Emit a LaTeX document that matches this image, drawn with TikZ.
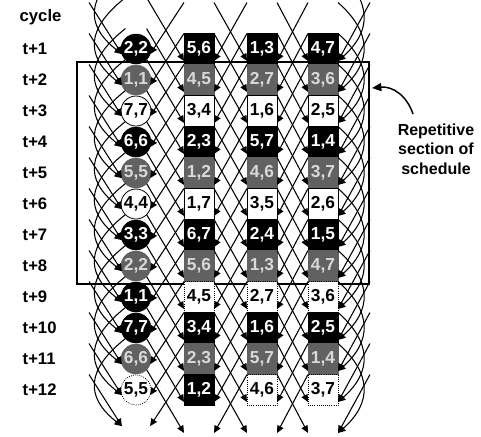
\documentclass[tikz,border=0pt]{standalone}
\usepackage{fontspec}
\setmainfont{Liberation Sans}
\usetikzlibrary{arrows.meta}
\begin{document}
\begin{tikzpicture}[x=0.75pt,y=-0.75pt,
  cellfont/.style={font=\fontsize{13}{15}\selectfont\bfseries},
  sq/.style={rectangle,minimum width=22.5pt,minimum height=23.25pt,inner sep=0pt,cellfont},
  ci/.style={circle,minimum size=22.5pt,inner sep=0pt,cellfont},
  cB/.style={fill=black,draw=black,text=white},
  cG/.style={fill=black!62,draw=black!62,text=black!15},
  cW/.style={fill=white,draw=black,line width=0.6pt,text=black},
  cWd/.style={fill=white,draw=black,densely dotted,line width=0.6pt,text=black},
  lab/.style={anchor=west,font=\fontsize{12.5}{14}\selectfont\bfseries},
  arr/.style={line width=0.8pt,-{Triangle[length=5.5pt,width=5pt]}},
  frame/.style={line width=1.5pt},
  ]
\useasboundingbox (0,0) rectangle (481,436);
\clip (0,0) rectangle (481,436);

% repetitive section frame
\draw[frame] (77,62) rectangle (369,284);

% cells
\node[ci,cB] (n-1-0) at (136,49) {2,2};
\node[sq,cB] (n-1-1) at (199,49) {5,6};
\node[sq,cB] (n-1-2) at (262,49) {1,3};
\node[sq,cB] (n-1-3) at (323,49) {4,7};
\node[ci,cG] (n-2-0) at (136,80) {1,1};
\node[sq,cG] (n-2-1) at (199,80) {4,5};
\node[sq,cG] (n-2-2) at (262,80) {2,7};
\node[sq,cG] (n-2-3) at (323,80) {3,6};
\node[ci,cW] (n-3-0) at (136,111) {7,7};
\node[sq,cW] (n-3-1) at (199,111) {3,4};
\node[sq,cW] (n-3-2) at (262,111) {1,6};
\node[sq,cW] (n-3-3) at (323,111) {2,5};
\node[ci,cB] (n-4-0) at (136,142) {6,6};
\node[sq,cB] (n-4-1) at (199,142) {2,3};
\node[sq,cB] (n-4-2) at (262,142) {5,7};
\node[sq,cB] (n-4-3) at (323,142) {1,4};
\node[ci,cG] (n-5-0) at (136,173) {5,5};
\node[sq,cG] (n-5-1) at (199,173) {1,2};
\node[sq,cG] (n-5-2) at (262,173) {4,6};
\node[sq,cG] (n-5-3) at (323,173) {3,7};
\node[ci,cW] (n-6-0) at (136,204) {4,4};
\node[sq,cW] (n-6-1) at (199,204) {1,7};
\node[sq,cW] (n-6-2) at (262,204) {3,5};
\node[sq,cW] (n-6-3) at (323,204) {2,6};
\node[ci,cB] (n-7-0) at (136,235) {3,3};
\node[sq,cB] (n-7-1) at (199,235) {6,7};
\node[sq,cB] (n-7-2) at (262,235) {2,4};
\node[sq,cB] (n-7-3) at (323,235) {1,5};
\node[ci,cG] (n-8-0) at (136,266) {2,2};
\node[sq,cG] (n-8-1) at (199,266) {5,6};
\node[sq,cG] (n-8-2) at (262,266) {1,3};
\node[sq,cG] (n-8-3) at (323,266) {4,7};
\node[ci,cB] (n-9-0) at (136,297) {1,1};
\node[sq,cWd] (n-9-1) at (199,297) {4,5};
\node[sq,cWd] (n-9-2) at (262,297) {2,7};
\node[sq,cWd] (n-9-3) at (323,297) {3,6};
\node[ci,cB] (n-10-0) at (136,328) {7,7};
\node[sq,cB] (n-10-1) at (199,328) {3,4};
\node[sq,cB] (n-10-2) at (262,328) {1,6};
\node[sq,cB] (n-10-3) at (323,328) {2,5};
\node[ci,cG] (n-11-0) at (136,359) {6,6};
\node[sq,cG] (n-11-1) at (199,359) {2,3};
\node[sq,cG] (n-11-2) at (262,359) {5,7};
\node[sq,cG] (n-11-3) at (323,359) {1,4};
\node[ci,cWd] (n-12-0) at (136,390) {5,5};
\node[sq,cB] (n-12-1) at (199,390) {1,2};
\node[sq,cWd] (n-12-2) at (262,390) {4,6};
\node[sq,cWd] (n-12-3) at (323,390) {3,7};

% connection points (real and virtual cells)
\foreach \r in {-2,...,13} {
  \pgfmathsetmacro\y{49+(\r-1)*31}
  \foreach \c in {-1,...,4} {
    \pgfmathsetmacro\x{{74,136,199,262,323,385}[\c+1]}
    \ifnum\c=0
      \coordinate (oR-\r-\c) at (\x+10.6,\y+10.6);
      \coordinate (oL-\r-\c) at (\x-10.6,\y+10.6);
      \coordinate (iL-\r-\c) at (\x-14.1,\y+5.1);
      \coordinate (iR-\r-\c) at (\x+14.1,\y+5.1);
    \else
      \coordinate (oR-\r-\c) at (\x+15,\y+15.5);
      \coordinate (oL-\r-\c) at (\x-15,\y+15.5);
      \coordinate (iL-\r-\c) at (\x-15,\y+12);
      \coordinate (iR-\r-\c) at (\x+15,\y+12);
    \fi
  }
}

% diagonal transfers
\foreach \r in {-1,...,11} {
  \pgfmathtruncatemacro\rr{\r+2}
  \foreach \c in {-1,0,1,2} {
    \pgfmathtruncatemacro\cc{\c+1}
    \draw[arr] (oR-\r-\c) -- (iL-\rr-\cc);
  }
  \foreach \c in {1,2,3,4} {
    \pgfmathtruncatemacro\cc{\c-1}
    \draw[arr] (oL-\r-\c) -- (iR-\rr-\cc);
  }
}
% wrap-around transfers
\foreach \r in {-2,...,10} {
  \pgfmathtruncatemacro\rr{\r+3}
  \draw[arr] (oL-\r-0) .. controls +(-38,30) and +(-38,-30) .. (iL-\rr-0);
  \draw[arr] (oR-\r-3) .. controls +(34,30) and +(34,-30) .. (iR-\rr-3);
}

% cycle labels
\node[lab] (cyc) at (15,17) {cycle};
\foreach \r in {1,...,12} {
  \pgfmathsetmacro\y{49+(\r-1)*31}
  \node[lab] (t-\r) at (18,\y) {t+\r};
}

% annotation
\node[align=center,font=\fontsize{12}{14.5}\selectfont\bfseries] (rep) at (436,149) {Repetitive\\section of\\schedule};
\coordinate (repA) at (413,114);
\coordinate (repB) at (372,88);
\draw[line width=1.1pt,-{Triangle[length=7pt,width=6pt]}] (repA) .. controls (407,96) and (393,86) .. (repB);
\end{tikzpicture}
\end{document}
